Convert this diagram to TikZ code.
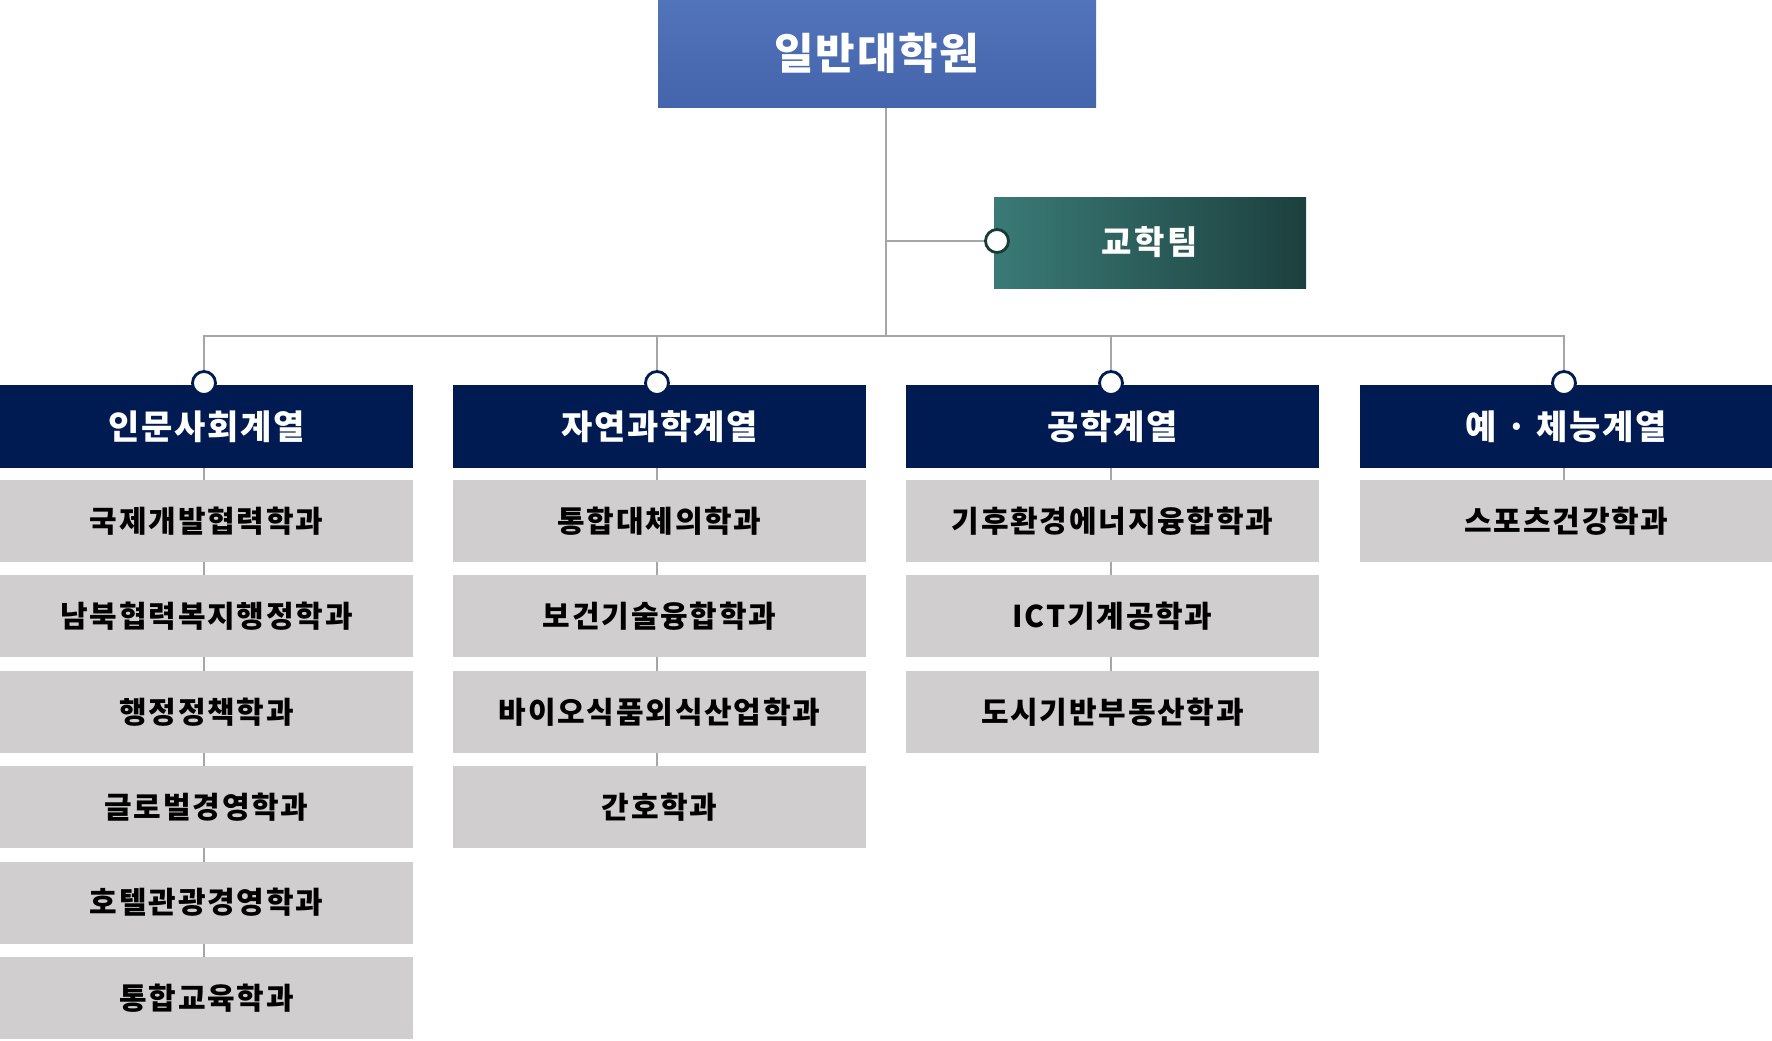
\documentclass[tikz,border=0pt]{standalone}
\usepackage{fontspec}
\setmainfont{Noto Sans CJK KR}
\usetikzlibrary{backgrounds}
\definecolor{navy}{RGB}{0,27,82}
\definecolor{deptgray}{RGB}{208,206,207}
\definecolor{linegray}{RGB}{166,166,166}
\definecolor{blueA}{RGB}{82,116,186}
\definecolor{blueB}{RGB}{68,100,172}
\definecolor{tealA}{RGB}{58,122,118}
\definecolor{tealM}{RGB}{50,110,106}
\definecolor{tealB}{RGB}{28,64,62}
\definecolor{tealedge}{RGB}{22,60,52}
\tikzset{
  topbox/.style={rectangle, minimum width=438pt, minimum height=107pt, inner sep=0pt,
    top color=blueA, bottom color=blueB, text=white,
    font=\bfseries\fontsize{43}{46}\selectfont\addfontfeature{LetterSpace=4}},
  teambox/.style={rectangle, minimum width=312pt, minimum height=91pt, inner sep=0pt,
    left color=tealA, middle color=tealM, right color=tealB, text=white,
    font=\bfseries\fontsize{33}{36}\selectfont\addfontfeature{LetterSpace=8}},
  headbox/.style={rectangle, fill=navy, minimum width=413pt, minimum height=83pt, inner sep=0pt,
    text=white, font=\bfseries\fontsize{34}{37}\selectfont\addfontfeature{LetterSpace=5}},
  deptbox/.style={rectangle, fill=deptgray, minimum width=413pt, minimum height=82pt, inner sep=0pt,
    text=black, font=\bfseries\fontsize{30}{33}\selectfont\addfontfeature{LetterSpace=6}},
  dot/.style={circle, fill=white, draw=navy, line width=2.8pt, minimum size=23pt, inner sep=0pt},
  tdot/.style={circle, fill=white, draw=tealedge, line width=2.8pt, minimum size=23pt, inner sep=0pt},
  conn/.style={draw=linegray, line width=2pt},
}
\begin{document}
\begin{tikzpicture}[x=1pt,y=-1pt]
\useasboundingbox (0,0) rectangle (1772,1041);
% top
\node[topbox] (top) at (877,53.5) {일반대학원};
\node[teambox] (team) at (1150,242.5) {교학팀};
\node[tdot] (tc) at (997,241) {};
\coordinate (bus) at (886,336);
% column heads
\node[headbox] (h1) at (206.5,426.5) {인문사회계열};
\node[headbox] (h2) at (659.5,426.5) {자연과학계열};
\node[headbox] (h3) at (1112.5,426.5) {공학계열};
\node[headbox] (h4) at (1566.5,426.5) {예 · 체능계열};
\node[dot] (c1) at (204,383) {};
\node[dot] (c2) at (657,383) {};
\node[dot] (c3) at (1111,383) {};
\node[dot] (c4) at (1564,383) {};
% column 1
\node[deptbox] (a1) at (206.5,521) {국제개발협력학과};
\node[deptbox] (a2) at (206.5,616.4) {남북협력복지행정학과};
\node[deptbox] (a3) at (206.5,711.8) {행정정책학과};
\node[deptbox] (a4) at (206.5,807.2) {글로벌경영학과};
\node[deptbox] (a5) at (206.5,902.6) {호텔관광경영학과};
\node[deptbox] (a6) at (206.5,998) {통합교육학과};
% column 2
\node[deptbox] (b1) at (659.5,521) {통합대체의학과};
\node[deptbox] (b2) at (659.5,616.4) {보건기술융합학과};
\node[deptbox] (b3) at (659.5,711.8) {바이오식품외식산업학과};
\node[deptbox] (b4) at (659.5,807.2) {간호학과};
% column 3
\node[deptbox] (d1) at (1112.5,521) {기후환경에너지융합학과};
\node[deptbox] (d2) at (1112.5,616.4) {ICT기계공학과};
\node[deptbox] (d3) at (1112.5,711.8) {도시기반부동산학과};
% column 4
\node[deptbox] (e1) at (1566.5,521) {스포츠건강학과};
\begin{scope}[on background layer]
  \draw[conn] (top.south -| bus) -- (bus);
  \draw[conn] (bus |- tc) -- (tc);
  \draw[conn] (c1) |- (bus);
  \draw[conn] (c2) |- (bus);
  \draw[conn] (c3) |- (bus);
  \draw[conn] (c4) |- (bus);
  \draw[conn] (c1) -- (c1 |- a6.north);
  \draw[conn] (c2) -- (c2 |- b4.north);
  \draw[conn] (c3) -- (c3 |- d3.north);
  \draw[conn] (c4) -- (c4 |- e1.north);
\end{scope}
\end{tikzpicture}
\end{document}
